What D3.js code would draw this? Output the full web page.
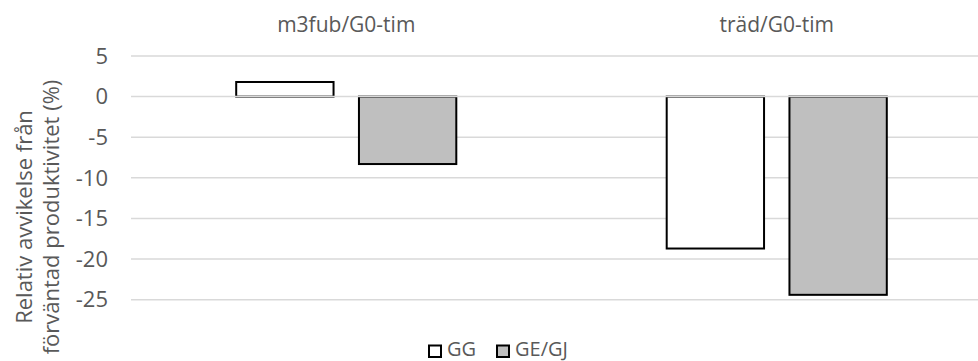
<!DOCTYPE html>
<html>
<head>
<meta charset="utf-8">
<script src="https://cdn.jsdelivr.net/npm/d3@7"></script>
<style>
  html, body { margin: 0; padding: 0; background: #fff; }
  svg { display: block; font-family: "Open Sans", sans-serif; }
</style>
</head>
<body>
<svg id="chart" width="978" height="361"></svg>
<script>
// Category groups and series
const categories = ["m3fub/G0-tim", "träd/G0-tim"];
const seriesNames = ["GG", "GE/GJ"];
const seriesGG = [1.8, -18.7];
const seriesGEGJ = [-8.3, -24.4];
const seriesFill = ["#ffffff", "#bfbfbf"];
const yTicks = [5, 0, -5, -10, -15, -20, -25];
const yTitleLines = ["Relativ avvikelse från", "förväntad produktivitet (%)"];

const seriesValues = [seriesGG, seriesGEGJ];
const rows = categories.map((c, i) => ({
  category: c,
  values: seriesNames.map((s, j) => ({ series: s, value: seriesValues[j][i], fill: seriesFill[j] }))
}));

const svg = d3.select("#chart");
const W = 978, H = 361;
const textColor = "#595959";
const fontSize = 21;

const plotLeft = 131, plotRight = 992;
const y = d3.scaleLinear().domain([-25, 5]).range([299.7, 56]);
const x0 = d3.scaleBand().domain(categories).range([plotLeft, plotRight]).paddingInner(0).paddingOuter(0);
const x1 = d3.scaleBand().domain(seriesNames).range([0, x0.bandwidth()]).paddingInner(0.207).paddingOuter(0.857);

svg.append("defs").append("clipPath").attr("id", "plotclip")
  .append("rect").attr("x", 0).attr("y", 0).attr("width", W).attr("height", H);

// Gridlines
const gridG = svg.append("g").attr("clip-path", "url(#plotclip)");
gridG.selectAll("line.grid")
  .data(yTicks.filter(t => t !== 0))
  .join("line")
  .attr("class", "grid")
  .attr("x1", plotLeft).attr("x2", plotRight)
  .attr("y1", d => y(d)).attr("y2", d => y(d))
  .attr("stroke", "#d9d9d9").attr("stroke-width", 1.5);

// Bars
const barG = svg.append("g").attr("clip-path", "url(#plotclip)");
barG.selectAll("g.cat")
  .data(rows)
  .join("g")
  .attr("class", "cat")
  .attr("transform", d => `translate(${x0(d.category)},0)`)
  .selectAll("rect")
  .data(d => d.values)
  .join("rect")
  .attr("x", d => x1(d.series))
  .attr("width", x1.bandwidth())
  .attr("y", d => y(Math.max(0, d.value)))
  .attr("height", d => Math.abs(y(d.value) - y(0)))
  .attr("fill", d => d.fill)
  .attr("stroke", "#000")
  .attr("stroke-width", 2);

// Zero line drawn over the bar bases
svg.append("line")
  .attr("x1", plotLeft).attr("x2", W)
  .attr("y1", y(0)).attr("y2", y(0))
  .attr("stroke", "#d9d9d9").attr("stroke-width", 1.5);

// Y tick labels
svg.append("g").selectAll("text")
  .data(yTicks)
  .join("text")
  .attr("x", 108)
  .attr("y", d => y(d))
  .attr("dy", "0.35em")
  .attr("text-anchor", "end")
  .attr("fill", textColor)
  .attr("font-size", 22)
  .text(d => d);

// Category labels along the top
svg.append("g").selectAll("text")
  .data(categories)
  .join("text")
  .attr("x", d => x0(d) + x0.bandwidth() / 2)
  .attr("y", 32)
  .attr("text-anchor", "middle")
  .attr("fill", textColor)
  .attr("font-size", fontSize)
  .text(d => d);

// Y axis title (two lines, rotated)
const title = svg.append("text")
  .attr("transform", "translate(0,217) rotate(-90)")
  .attr("text-anchor", "middle")
  .attr("fill", textColor)
  .attr("font-size", 22);
title.selectAll("tspan")
  .data(yTitleLines)
  .join("tspan")
  .attr("x", 0)
  .attr("y", (d, i) => 32 + i * 27)
  .text(d => d);

// Legend
const legend = svg.append("g");
const legendItems = [
  { name: seriesNames[0], fill: seriesFill[0], x: 429 },
  { name: seriesNames[1], fill: seriesFill[1], x: 497 }
];
const lg = legend.selectAll("g").data(legendItems).join("g")
  .attr("transform", d => `translate(${d.x},0)`);
lg.append("rect")
  .attr("x", 0).attr("y", 345.5)
  .attr("width", 12).attr("height", 11.5)
  .attr("fill", d => d.fill)
  .attr("stroke", "#000").attr("stroke-width", 2);
lg.append("text")
  .attr("x", 18).attr("y", 356)
  .attr("fill", textColor)
  .attr("font-size", 20)
  .text(d => d.name);
</script>
</body>
</html>
